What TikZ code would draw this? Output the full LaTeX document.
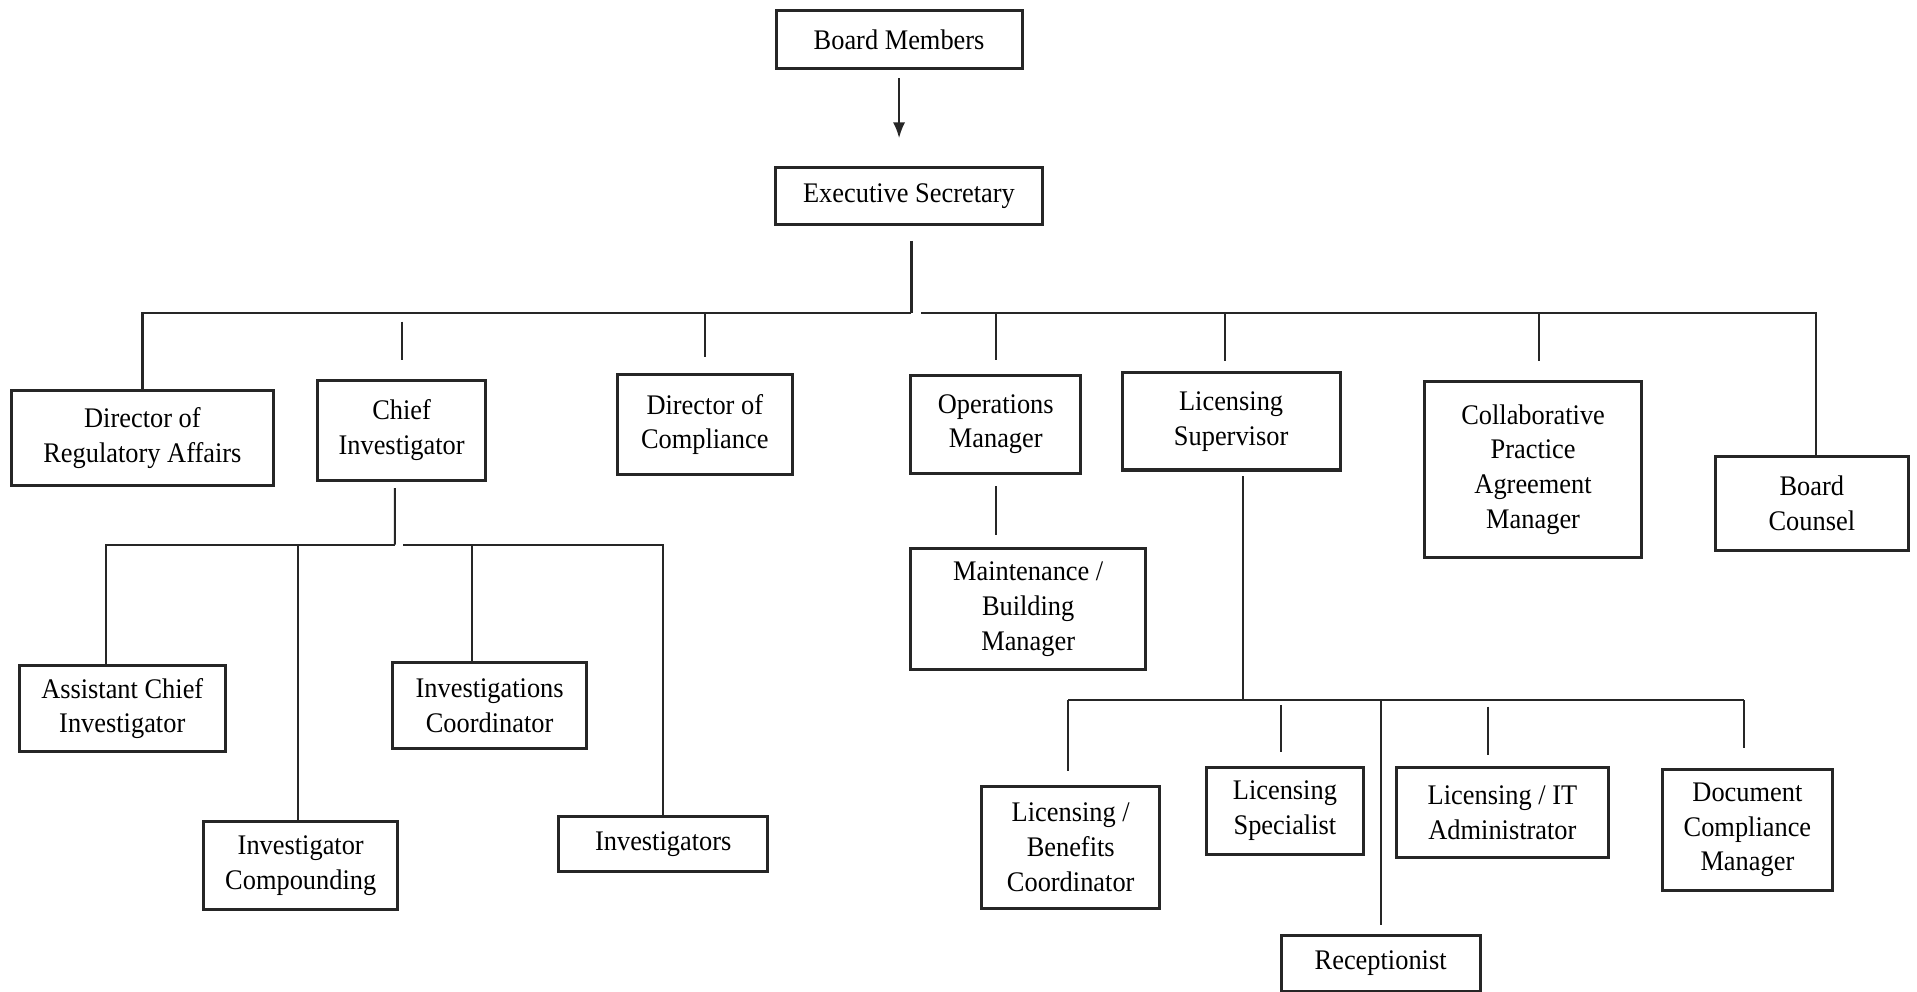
\documentclass[tikz,border=0pt]{standalone}
\usepackage{fontspec}
\setmainfont{Liberation Serif}[FakeStretch=0.93]
\usepackage{tikz}
\usetikzlibrary{arrows.meta}
\newcommand{\orgfont}{\fontsize{6.6}{8.1}\selectfont}
\tikzset{
	post/.style={draw=black!85,line width=0.7pt,align=center,inner sep=0pt,font=\orgfont},
	link/.style={draw=black!85,line width=0.5pt}
}

\begin{document}
\begin{tikzpicture}[x=0.01cm,y=-0.01cm]
	\useasboundingbox (0,0) rectangle (1568,811);
	% top
	\node[post,minimum width=2.01cm,minimum height=0.48cm] (BM) at (735.4,32.3) {Board Members};
	\node[post,minimum width=2.18cm,minimum height=0.46cm] (ES) at (743.5,160.3) {Executive Secretary};
	% second row
	\node[post,minimum width=2.14cm,minimum height=0.775cm] (DRA) at (116.5,358.2) {Director of\\Regulatory Affairs};
	\node[post,minimum width=1.375cm,minimum height=0.81cm] (CI) at (328.5,352.1) {Chief\\Investigator};
	\node[post,minimum width=1.43cm,minimum height=0.81cm] (DC) at (576.5,347.2) {Director of\\Compliance};
	\node[post,minimum width=1.39cm,minimum height=0.80cm] (OM) at (814.5,346.9) {Operations\\Manager};
	\node[post,minimum width=1.78cm,minimum height=0.796cm] (LS) at (1007,344.6) {Licensing\\Supervisor};
	\node[post,minimum width=1.78cm,minimum height=1.445cm] (CPA) at (1254,384) {Collaborative\\Practice\\Agreement\\Manager};
	\node[post,minimum width=1.58cm,minimum height=0.77cm] (BC) at (1482,411.5) {Board\\Counsel};
	% investigations
	\node[post,minimum width=1.68cm,minimum height=0.71cm] (ACI) at (100,579.5) {Assistant Chief\\Investigator};
	\node[post,minimum width=1.585cm,minimum height=0.72cm] (ICP) at (246,708) {Investigator\\Compounding};
	\node[post,minimum width=1.59cm,minimum height=0.71cm] (IC) at (400.5,577) {Investigations\\Coordinator};
	\node[post,minimum width=1.71cm,minimum height=0.455cm] (IV) at (542.5,690.3) {Investigators};
	% operations
	\node[post,minimum width=1.92cm,minimum height=0.995cm] (MBM) at (841,498.2) {Maintenance /\\Building\\Manager};
	% licensing
	\node[post,minimum width=1.455cm,minimum height=1.00cm] (LBC) at (875.8,693) {Licensing /\\Benefits\\Coordinator};
	\node[post,minimum width=1.28cm,minimum height=0.706cm] (LSP) at (1051,663.3) {Licensing\\Specialist};
	\node[post,minimum width=1.626cm,minimum height=0.46cm] (REC) at (1129.3,788) {Receptionist};
	\node[post,minimum width=1.737cm,minimum height=0.736cm] (LIT) at (1228.9,664.8) {Licensing / IT\\Administrator};
	\node[post,minimum width=1.395cm,minimum height=0.995cm] (DCM) at (1429.3,678.8) {Document\\Compliance\\Manager};
	%
	\coordinate (esbus) at (745.5,256.3);
	\coordinate (cibus) at (323,445.5);
	\coordinate (lsbus) at (1017,572.6);
	%
	\draw[link,-{Latex[length=0.13cm,width=0.1cm]},shorten <=0.066cm,shorten >=0.23cm] (BM.south) -- (BM.south |- ES.north);
	\draw[link,shorten <=0.125cm] (ES.south -| esbus) -- (esbus);
	\draw[link] (esbus) -| (DRA.north);
	\draw[link] ([xshift=0.08cm]esbus) -| ([xshift=0.035cm]BC.north);
	\path[link]
		(CI.north |- esbus) edge[shorten <=0.067cm,shorten >=0.16cm] (CI.north)
		(DC.north |- esbus) edge[shorten >=0.137cm] (DC.north)
		(OM.north |- esbus) edge[shorten >=0.11cm] (OM.north)
		([xshift=-0.05cm]LS.north |- esbus) edge[shorten >=0.08cm] ([xshift=-0.05cm]LS.north)
		([xshift=0.05cm]CPA.north |- esbus) edge[shorten >=0.15cm] ([xshift=0.05cm]CPA.north);
	%
	\draw[link,shorten <=0.054cm] ([xshift=-0.055cm]CI.south) -- (cibus);
	\draw[link] (cibus) -| ([xshift=-0.13cm]ACI.north);
	\draw[link] ([xshift=0.07cm]cibus) -| (IV.north);
	\path[link]
		([xshift=-0.02cm]ICP.north |- cibus) edge ([xshift=-0.02cm]ICP.north)
		([xshift=-0.145cm]IC.north |- cibus) edge ([xshift=-0.145cm]IC.north);
	%
	\draw[link,shorten <=0.096cm,shorten >=0.097cm] (OM.south) -- (OM.south |- MBM.north);
	%
	\draw[link,shorten <=0.04cm] (LS.south -| lsbus) -- (lsbus);
	\draw[link] ([xshift=-0.022cm]LBC.north |- lsbus) -- ([xshift=-0.028cm]DCM.north |- lsbus);
	\path[link]
		([xshift=-0.022cm]LBC.north |- lsbus) edge[shorten >=0.11cm] ([xshift=-0.022cm]LBC.north)
		([xshift=-0.03cm]LSP.north |- lsbus) edge[shorten <=0.04cm,shorten >=0.113cm] ([xshift=-0.03cm]LSP.north)
		(REC.north |- lsbus) edge[shorten >=0.07cm] (REC.north)
		([xshift=-0.119cm]LIT.north |- lsbus) edge[shorten <=0.054cm,shorten >=0.09cm] ([xshift=-0.119cm]LIT.north)
		([xshift=-0.028cm]DCM.north |- lsbus) edge[shorten >=0.16cm] ([xshift=-0.028cm]DCM.north);
\end{tikzpicture}
\end{document}
